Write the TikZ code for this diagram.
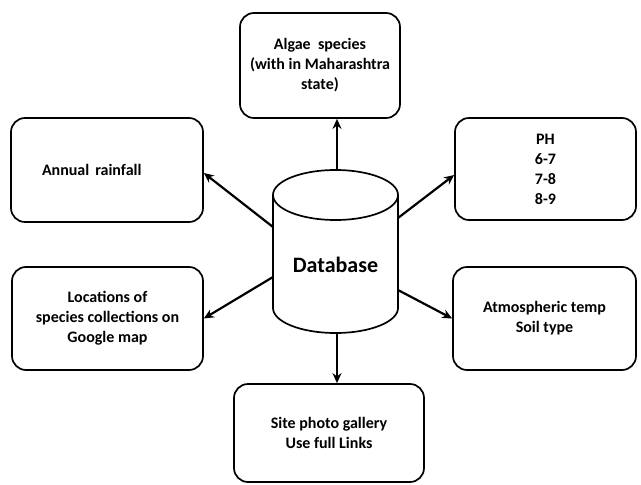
\documentclass[tikz,border=0pt]{standalone}
\usepackage{fontspec}
\setmainfont{Carlito}
\usetikzlibrary{arrows.meta,calc}
\begin{document}
\begin{tikzpicture}[x=1pt,y=1pt,
  box/.style={draw, line width=1.7pt, rounded corners=14pt, align=center,
    font=\bfseries\fontsize{16}{20}\selectfont, inner sep=0pt},
  arr/.style={line width=2.2pt, -{Stealth[length=10pt,width=9pt]}},
  cyl/.style={draw, line width=1.7pt, fill=white}]
\useasboundingbox (0,0) rectangle (641,-485);
\fill[white] (0,0) rectangle (641,-485);
% boxes
\node[box, minimum width=160, minimum height=105] (alg) at (320,-65.5)
  {Algae\ \ species\\(with in Maharashtra\\state)};
\node[box, minimum width=192, minimum height=104, text width=130, inner xsep=31, align=left] (rain) at (107,-170)
  {Annual\hspace{6pt}rainfall};
\node[box, minimum width=181, minimum height=102] (ph) at (545.5,-169)
  {PH\\6-7\\7-8\\8-9};
\node[box, minimum width=191, minimum height=103] (loc) at (107.5,-318.5)
  {Locations of\\species collections on\\Google map};
\node[box, minimum width=183, minimum height=103] (atm) at (544.5,-318.5)
  {Atmospheric temp\\Soil type};
\node[box, minimum width=190, minimum height=98] (site) at (329,-433)
  {Site photo gallery\\Use full Links};
% cylinder
\draw[cyl] (273,-195) -- (273,-308) arc[start angle=180,end angle=360,x radius=62.5,y radius=25] -- (398,-195);
\draw[cyl] (335.5,-195) ellipse[x radius=62.5,y radius=25];
\node[font=\bfseries\fontsize{22}{26}\selectfont] (db) at (335.5,-265) {Database};
\coordinate (ctop) at (337,-170);
\coordinate (cbot) at (337,-333);
\coordinate (cl1) at (273,-227);
\coordinate (cl2) at (273,-277);
\coordinate (cr1) at (398,-218);
\coordinate (cr2) at (398,-290);
% connectors
\draw[arr] (ctop) -- (ctop |- alg.south);
\draw[arr] (cbot) -- (cbot |- site.north);
\draw[arr] (cl1) -- ($(rain.east)+(0,-3)$);
\draw[arr] (cl2) -- (loc.east);
\draw[arr] (cr1) -- ($(ph.west)+(0,-6)$);
\draw[arr] (cr2) -- (atm.west);
\end{tikzpicture}
\end{document}
